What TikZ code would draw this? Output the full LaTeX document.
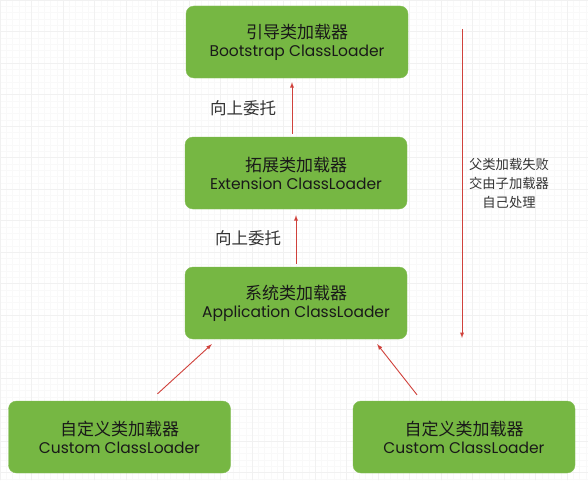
\documentclass[tikz,border=0pt]{standalone}
\usepackage{fontspec}
\setmainfont{Poppins}
\newfontfamily\zh{Noto Sans CJK SC}
\usetikzlibrary{positioning}
\definecolor{boxgreen}{HTML}{76B743}
\definecolor{arrred}{HTML}{D0413B}
\definecolor{labgray}{HTML}{333333}

\begin{document}
\begin{tikzpicture}[x=1pt, y=-1pt,
  loader/.style={fill=boxgreen, draw=boxgreen!90!white, rounded corners=8pt,
    minimum width=222pt, minimum height=72pt, align=center,
    font=\fontsize{15.5}{18}\selectfont, text=black!90},
  up/.style={->, >=latex, arrred, line width=0.9pt},
  lab/.style={text=labgray, font=\zh\fontsize{16.5}{18}\selectfont}]
\useasboundingbox (0,0) rectangle (588,495);
\fill[white] (0,0) rectangle (588,495);
\draw[gray!5, step=6.3pt] (0,0) grid (588,480);
\draw[gray!11, step=31.5pt] (0,0) grid (588,480);

\node[loader] (boot) at (297,42) {{\zh\fontsize{17}{18}\selectfont 引导类加载器}\\Bootstrap ClassLoader};
\node[loader] (ext) at (296,173) {{\zh\fontsize{17}{18}\selectfont 拓展类加载器}\\Extension ClassLoader};
\node[loader] (app) at (296,303) {{\zh\fontsize{17}{18}\selectfont 系统类加载器}\\Application ClassLoader};
\node[loader] (cl1) at (119.5,437) {{\zh\fontsize{17}{18}\selectfont 自定义类加载器}\\Custom ClassLoader};
\node[loader] (cl2) at (464,437) {{\zh\fontsize{17}{18}\selectfont 自定义类加载器}\\Custom ClassLoader};

\node[lab] (up1) at (243,108) {向上委托};
\node[lab] (up2) at (248,238) {向上委托};

\coordinate (top) at (462,29);
\coordinate (bot) at (462,338);
\node[text=labgray, font=\zh\fontsize{13.3}{19}\selectfont, align=center] (fail) at (509,183) {父类加载失败\\交由子加载器\\自己处理};

\draw[up] ([xshift=-4pt]ext.north) ++(0,-3) -- ([xshift=-5pt,yshift=-4pt]boot.south);
\draw[up] ([yshift=3pt]app.north) -- ([yshift=-6pt]ext.south);
\draw[up] ([xshift=38pt,yshift=7pt]cl1.north) -- ([xshift=27pt,yshift=-5pt]app.south west);
\draw[up] ([xshift=-47pt,yshift=6pt]cl2.north) -- ([xshift=-30pt,yshift=-5pt]app.south east);
\draw[up] (top) -- (bot);

\end{tikzpicture}
\end{document}
